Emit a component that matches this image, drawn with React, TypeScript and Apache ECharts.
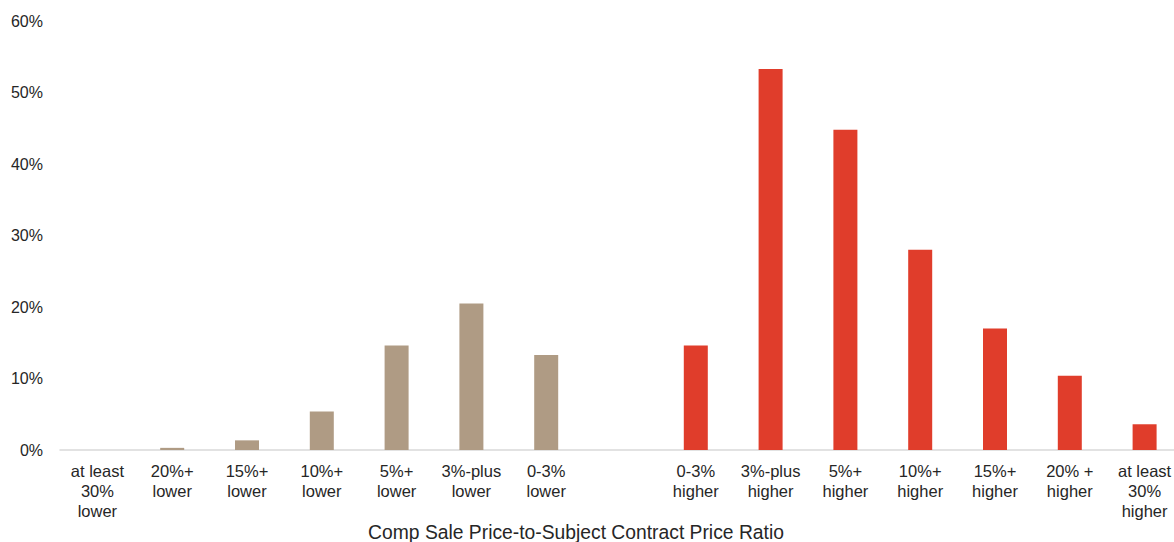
import React, { useEffect, useRef } from "react";
import * as echarts from "echarts";

const lowerCategories = [
  "at least\n30%\nlower",
  "20%+\nlower",
  "15%+\nlower",
  "10%+\nlower",
  "5%+\nlower",
  "3%-plus\nlower",
  "0-3%\nlower",
];
const higherCategories = [
  "0-3%\nhigher",
  "3%-plus\nhigher",
  "5%+\nhigher",
  "10%+\nhigher",
  "15%+\nhigher",
  "20% +\nhigher",
  "at least\n30%\nhigher",
];
const lowerValues = [0, 0.3, 1.35, 5.4, 14.6, 20.5, 13.3];
const higherValues = [14.6, 53.3, 44.8, 28.0, 17.0, 10.4, 3.6];
const yTicks = [0, 10, 20, 30, 40, 50, 60];
const axisTitle = "Comp Sale Price-to-Subject Contract Price Ratio";

export default function App() {
  const ref = useRef<HTMLDivElement>(null);
  useEffect(() => {
    if (!ref.current) return;
    const chart = echarts.init(ref.current, undefined, { renderer: "svg" });
    const categories = [...lowerCategories, "", ...higherCategories];
    const gap = ["-"];
    const lowSeries = [...lowerValues, ...gap, ...higherCategories.map(() => "-")];
    const highSeries = [...lowerCategories.map(() => "-"), ...gap, ...higherValues];
    const font = "'Liberation Sans', Arial, sans-serif";
    chart.setOption({
      animation: false,
      grid: {
        left: 60,
        width: 1122,
        top: 21,
        height: 429,
        containLabel: false,
        outerBoundsMode: "none",
      },
      graphic: [
        {
          type: "text",
          x: 576,
          y: 532,
          style: {
            text: axisTitle,
            textAlign: "center",
            textVerticalAlign: "middle",
            fill: "#262626",
            fontSize: 19.3,
            fontFamily: font,
          },
        },
      ],
      xAxis: {
        type: "category",
        data: categories,
        axisLine: { lineStyle: { color: "#d9d9d9", width: 1.5 } },
        axisTick: { show: false },
        axisLabel: {
          interval: 0,
          color: "#262626",
          fontSize: 16.5,
          fontFamily: font,
          lineHeight: 20,
          margin: 11,
        },
      },
      yAxis: {
        type: "value",
        min: yTicks[0],
        max: yTicks[yTicks.length - 1],
        interval: 10,
        splitLine: { show: false },
        axisLine: { show: false },
        axisTick: { show: false },
        axisLabel: {
          formatter: "{value}%",
          color: "#262626",
          fontSize: 16,
          fontFamily: font,
          margin: 17,
        },
      },
      series: [
        {
          type: "bar",
          stack: "all",
          data: lowSeries,
          barWidth: 24,
          itemStyle: { color: "#af9b84" },
        },
        {
          type: "bar",
          stack: "all",
          data: highSeries,
          barWidth: 24,
          itemStyle: { color: "#e03d2b" },
        },
      ],
    });
    return () => chart.dispose();
  }, []);
  return (
    <div
      ref={ref}
      style={{ position: "absolute", left: 0, top: 0, width: 1174, height: 542 }}
    />
  );
}
